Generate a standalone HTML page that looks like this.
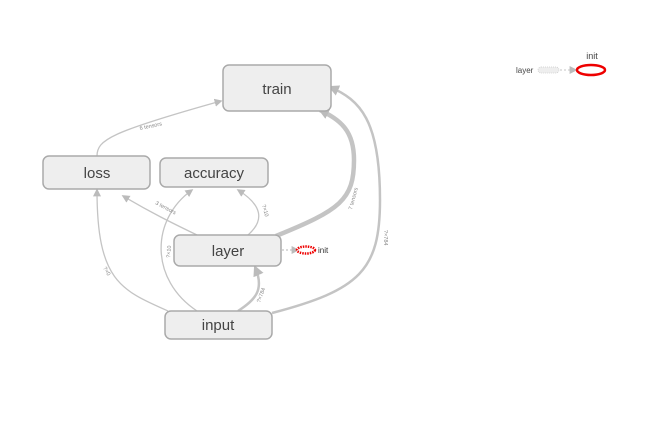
<!DOCTYPE html>
<html><head><style>body{margin:0;background:#fff}svg{display:block;font-family:"Liberation Sans",sans-serif}</style></head><body>
<svg width="669" height="434" viewBox="0 0 669 434" xmlns="http://www.w3.org/2000/svg">
<defs>
<marker id="a" viewBox="0 0 10 10" refX="8" refY="5" markerWidth="8" markerHeight="8" markerUnits="userSpaceOnUse" orient="auto"><path d="M0,0L10,5L0,10z" fill="#bbb"/></marker>
<marker id="s" viewBox="0 0 10 10" refX="8" refY="5" markerWidth="11" markerHeight="11" markerUnits="userSpaceOnUse" orient="auto"><path d="M0,0L10,5L0,10z" fill="#bbb"/></marker>
</defs>
<g fill="none" stroke="#c4c4c4">
<path d="M97,156 C97,140 110,132 221,101" stroke-width="1.3" marker-end="url(#a)"/>
<path d="M197,235 C170,222 150,212 123,196" stroke-width="1.3" marker-end="url(#a)"/>
<path d="M248,235 C265,220 262,205 238,190" stroke-width="1.3" marker-end="url(#a)"/>
<path d="M276,236 C340,210 354,200 354,160 C354,130 340,120 320,110" stroke-width="4.5" marker-end="url(#s)"/>
<path d="M272,313 C360,290 380,270 380,200 C380,120 360,100 330,87" stroke-width="2.5" marker-end="url(#s)"/>
<path d="M168,311 C120,290 97,280 97,190" stroke-width="1.3" marker-end="url(#a)"/>
<path d="M197,311 C150,280 150,220 192,190" stroke-width="1.3" marker-end="url(#a)"/>
<path d="M238,311 C255,300 265,290 255,267" stroke-width="2.5" marker-end="url(#s)"/>
<path d="M282,250 L298,250" stroke-width="1.3" stroke-dasharray="2,2" marker-end="url(#a)"/>
<path d="M540,70 L576,70" stroke-width="1" stroke-dasharray="2,2" marker-end="url(#a)"/>
</g>
<g fill="#888" font-size="5.5">
<text x="140" y="130" transform="rotate(-12 140 130)">6 tensors</text>
<text x="155" y="204" transform="rotate(28 155 204)">3 tensors</text>
<text x="262" y="205" transform="rotate(75 262 205)">?×10</text>
<text x="352" y="210" transform="rotate(-75 352 210)">7 tensors</text>
<text x="384" y="230" transform="rotate(90 384 230)">?×784</text>
<text x="103" y="268" transform="rotate(60 103 268)">?×0</text>
<text x="170" y="258" transform="rotate(-85 170 258)">?×10</text>
<text x="260" y="303" transform="rotate(-70 260 303)">?×784</text>
</g>
<g fill="#eee" stroke="#aaa" stroke-width="1.5">
<rect x="223" y="65" width="108" height="46" rx="6"/>
<rect x="43" y="156" width="107" height="33" rx="6"/>
<rect x="160" y="158" width="108" height="29" rx="6"/>
<rect x="174" y="235" width="107" height="31" rx="6"/>
<rect x="165" y="311" width="107" height="28" rx="6"/>
</g>
<g fill="#444" font-size="15" text-anchor="middle">
<text x="277" y="94">train</text>
<text x="97" y="178">loss</text>
<text x="214" y="178">accuracy</text>
<text x="228" y="256">layer</text>
<text x="218" y="330">input</text>
</g>
<ellipse cx="306" cy="250" rx="9" ry="3.5" fill="#fff" stroke="#e00" stroke-width="2.5" stroke-dasharray="1.5,1"/>
<text x="318" y="253" font-size="8" fill="#333">init</text>
<rect x="538" y="67" width="21" height="6" rx="3" fill="#eee" stroke="#ccc" stroke-width="0.8" stroke-dasharray="1,1"/>
<text x="516" y="73" font-size="8" fill="#444">layer</text>
<ellipse cx="591" cy="70" rx="14" ry="5" fill="#fff" stroke="#e00" stroke-width="2.5"/>
<text x="592" y="59" font-size="9" fill="#444" text-anchor="middle">init</text>
</svg>
</body></html>
